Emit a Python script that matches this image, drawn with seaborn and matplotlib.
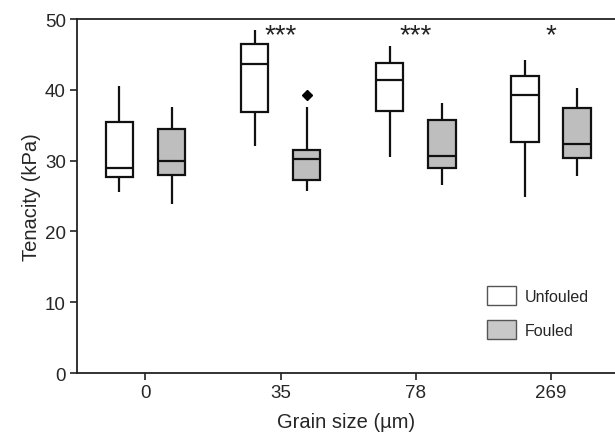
import pandas as pd
import numpy as np
import matplotlib
matplotlib.use("Agg")
import matplotlib.pyplot as plt
from matplotlib.patches import Patch
import seaborn as sns

# grain size classes (um)
grain_sizes = ["0", "35", "78", "269"]

# tenacity readings (kPa) per grain size: whisker low, Q1, median, Q3, whisker high (+ outlier)
unfouled = [
    [25.6, 27.7, 28.9, 35.5, 40.5],
    [32.0, 36.8, 43.6, 46.5, 48.4],
    [30.5, 37.0, 41.4, 43.8, 46.2],
    [24.9, 32.6, 39.2, 41.9, 44.2],
]
fouled = [
    [23.9, 27.9, 29.9, 34.5, 37.6],
    [25.7, 27.2, 27.2, 30.2, 30.2, 31.5, 31.5, 37.6, 39.3],
    [26.6, 29.0, 30.7, 35.8, 38.2],
    [27.8, 30.4, 32.3, 37.5, 40.3],
]
stars = ["", "***", "***", "*"]

rows = []
for g, vals in zip(grain_sizes, unfouled):
    rows += [(g, "Unfouled", v) for v in vals]
for g, vals in zip(grain_sizes, fouled):
    rows += [(g, "Fouled", v) for v in vals]
df = pd.DataFrame(rows, columns=["grain", "treatment", "tenacity"])

sns.set_style("ticks")
plt.rcParams["font.family"] = ["Liberation Sans", "DejaVu Sans"]

fig = plt.figure(figsize=(6.15, 4.35), dpi=100)
ax = fig.add_axes([0.1252, 0.1402, 0.8748, 0.8138])

sns.boxplot(data=df, x="grain", y="tenacity", hue="treatment",
            order=grain_sizes, hue_order=["Unfouled", "Fouled"],
            palette={"Unfouled": "white", "Fouled": "#bebebe"},
            width=0.77, gap=0.47, linewidth=1.6, linecolor="#111111",
            showcaps=False, whis=1.5,
            flierprops=dict(marker="D", markersize=5.5, markerfacecolor="black",
                            markeredgecolor="black"),
            legend=False, ax=ax)

for i, s in enumerate(stars):
    if s:
        ax.text(i, 46.7, s, ha="center", va="baseline", fontsize=20, color="#222222")

ax.set_ylim(0, 50)
ax.set_xlim(-0.507, 3.475)
ax.set_yticks([0, 10, 20, 30, 40, 50])
ax.set_xticks(range(len(grain_sizes)))
ax.set_xticklabels(grain_sizes)
ax.tick_params(axis="both", labelsize=13.5, length=5, width=1.2, direction="out",
               color="#222222", pad=3)
ax.set_xlabel("Grain size (µm)", fontsize=14.5, labelpad=8)
ax.set_ylabel("Tenacity (kPa)", fontsize=14.5, labelpad=3)

for side in ["left", "bottom", "top"]:
    ax.spines[side].set_linewidth(1.3)
    ax.spines[side].set_color("#222222")
ax.spines["right"].set_visible(False)

handles = [Patch(facecolor="white", edgecolor="#555555", label="Unfouled"),
           Patch(facecolor="#c8c8c8", edgecolor="#555555", label="Fouled")]
ax.legend(handles=handles, loc="upper left", bbox_to_anchor=(0.747, 0.268),
          frameon=False, fontsize=11.5, handlelength=1.8, handleheight=1.45,
          handletextpad=0.58, labelspacing=0.95, borderpad=0)

fig.savefig("out.png", dpi=100)
